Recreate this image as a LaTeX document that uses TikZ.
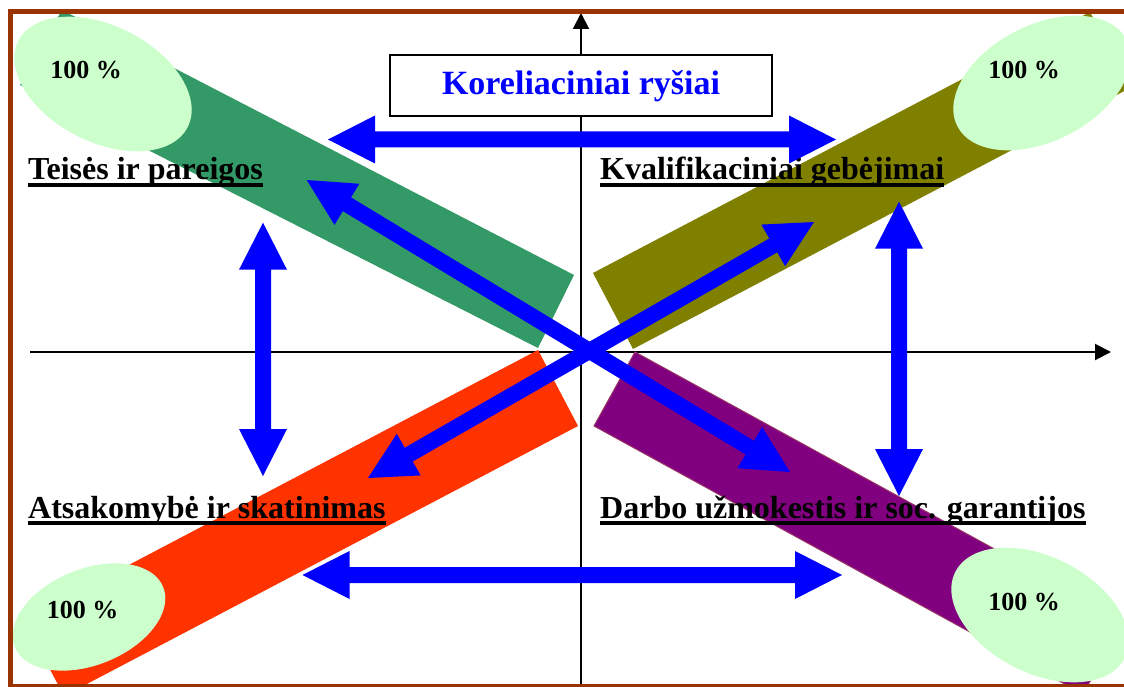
\documentclass[tikz,border=0pt]{standalone}
\usepackage{fontspec}
\setmainfont{Liberation Serif}
\usetikzlibrary{calc,arrows.meta,shapes.geometric}
\definecolor{framebrown}{HTML}{993300}
\definecolor{bgreen}{HTML}{339966}
\definecolor{bolive}{HTML}{808000}
\definecolor{bred}{HTML}{FF3300}
\definecolor{bpurple}{HTML}{800080}
\definecolor{purpleedge}{HTML}{993366}
\definecolor{pale}{HTML}{CCFFCC}
\definecolor{arrowblue}{HTML}{0000FF}
\tikzset{
  bigarrow/.style={fill=arrowblue, to path={
    -- ($(\tikztostart)!47pt!(\tikztotarget)!24pt!90:(\tikztotarget)$)
    -- ($(\tikztostart)!47pt!(\tikztotarget)!8pt!90:(\tikztotarget)$)
    -- ($(\tikztotarget)!47pt!(\tikztostart)!8pt!-90:(\tikztostart)$)
    -- ($(\tikztotarget)!47pt!(\tikztostart)!24pt!-90:(\tikztostart)$)
    -- (\tikztotarget)
    -- ($(\tikztotarget)!47pt!(\tikztostart)!24pt!90:(\tikztostart)$)
    -- ($(\tikztotarget)!47pt!(\tikztostart)!8pt!90:(\tikztostart)$)
    -- ($(\tikztostart)!47pt!(\tikztotarget)!8pt!-90:(\tikztotarget)$)
    -- ($(\tikztostart)!47pt!(\tikztotarget)!24pt!-90:(\tikztotarget)$)
    -- cycle}},
  axisline/.style={line width=2pt, -{Triangle[length=16pt,width=16pt]}},
  oval/.style={ellipse, fill=pale, inner sep=0pt},
  pct/.style={inner sep=0pt, font=\fontsize{26pt}{30pt}\selectfont\bfseries},
  lbl/.style={inner sep=0pt, anchor=base west, font=\fontsize{32pt}{38pt}\selectfont\bfseries},
  uline/.style={line width=4pt},
  framestyle/.style={framebrown, line width=5pt}
}
\begin{document}
\begin{tikzpicture}[x=1pt,y=-1pt]
\useasboundingbox (0,0) rectangle (1124,687);

% axes
\coordinate (xl) at (30,352);
\coordinate (xr) at (1111,352);
\coordinate (yb) at (581,687);
\coordinate (yt) at (581,13);
\draw[axisline] (xl) -- (xr);
\draw[axisline] (yb) -- (yt);

% bands
\fill[bgreen] (62,10) -- (20,85) -- (538,348) -- (574,275) -- cycle;
\fill[bolive] (593,273) -- (633,349) -- (1130,88) -- (1090,12) -- cycle;
\fill[bred] (538,350) -- (578,426) -- (64,696) -- (24,620) -- cycle;
\filldraw[fill=bpurple, draw=purpleedge, line width=1pt] (635,352) -- (594,426) -- (1083,694) -- (1124,620) -- cycle;

% ovals
\node[oval, minimum width=190pt, minimum height=116pt, rotate=-27] (o1) at (103,84) {};
\node[oval, minimum width=190pt, minimum height=116pt, rotate=27] (o2) at (1042,83) {};
\node[oval, minimum width=160pt, minimum height=96pt, rotate=22] (o3) at (89,617) {};
\node[oval, minimum width=190pt, minimum height=116pt, rotate=-27] (o4) at (1040,615) {};
\node[pct] (p1) at (86,70) {100 \%};
\node[pct] (p2) at (1024,70) {100 \%};
\node[pct] (p3) at (82.5,610) {100 \%};
\node[pct] (p4) at (1024,602) {100 \%};

% title box
\node[draw, line width=1.5pt, fill=white, minimum width=382pt, minimum height=61pt, inner sep=0pt] (title) at (581,85.5) {};
\node[inner sep=0pt, anchor=base, text=arrowblue, font=\fontsize{34pt}{40pt}\selectfont\bfseries] (titletext) at (581,95) {Koreliaciniai ryšiai};

% labels
\node[lbl] (l1) at (28,180) {Teisės ir pareigos};
\node[lbl] (l2) at (600,180) {Kvalifikaciniai gebėjimai};
\node[lbl] (l3) at (28,518) {Atsakomybė ir skatinimas};
\node[lbl] (l4) at (600,518) {Darbo užmokestis ir soc. garantijos};
\foreach \n in {l1,l2,l3,l4}
  \draw[uline] ([yshift=-5pt]\n.base west) -- ([yshift=-5pt]\n.base east);

% blue arrows
\coordinate (ta) at (328,139.5);  \coordinate (tb) at (836,139.5);
\coordinate (ba) at (302.5,575);  \coordinate (bb) at (842,575);
\coordinate (la) at (263,222.7);  \coordinate (lb) at (263,476);
\coordinate (ra) at (899,201.7);  \coordinate (rb) at (899,496);
\coordinate (d1a) at (306.7,180); \coordinate (d1b) at (790,472);
\coordinate (d2a) at (368,478);   \coordinate (d2b) at (814,222);
\path[bigarrow] (ta) to (tb);
\path[bigarrow] (ba) to (bb);
\path[bigarrow] (la) to (lb);
\path[bigarrow] (ra) to (rb);
\path[bigarrow] (d1a) to (d1b);
\path[bigarrow] (d2a) to (d2b);

% frame
\draw[framestyle] (8,12) -- (1124,12);
\draw[framestyle] (10,10) -- (10,687);
\draw[framebrown, line width=3pt] (8,685.5) -- (1124,685.5);
\end{tikzpicture}
\end{document}
